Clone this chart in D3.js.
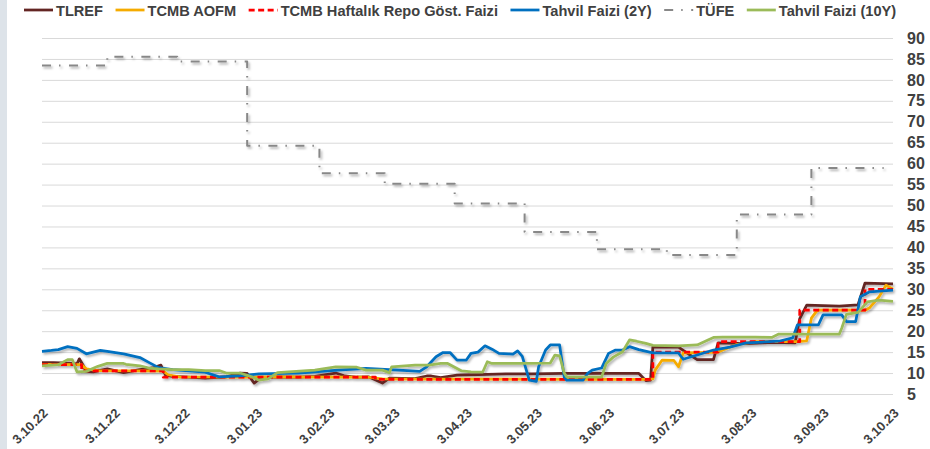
<!DOCTYPE html>
<html>
<head>
<meta charset="utf-8">
<script src="https://cdn.jsdelivr.net/npm/d3@7"></script>
<style>
  body { margin: 0; background: #fff; }
  svg { display: block; font-family: "Liberation Sans", Arial, sans-serif; font-weight: bold; }
</style>
</head>
<body>
<svg></svg>
<script>
// values (dates are dd.mm.yy)
const seriesNames = ['TLREF', 'TCMB AOFM', 'TCMB Haftalık Repo Göst. Faizi', 'Tahvil Faizi (2Y)', 'TÜFE', 'Tahvil Faizi (10Y)'];

const tlref = [
  ['03.10.22', 12.5], ['08.10.22', 12.5], ['14.10.22', 12.4], ['18.10.22', 12.2], ['19.10.22', 13.4],
  ['21.10.22', 11.5], ['22.10.22', 10.4], ['25.10.22', 10.3], ['31.10.22', 11.0], ['07.11.22', 10.1],
  ['14.11.22', 10.8], ['20.11.22', 11.3], ['23.11.22', 11.9], ['25.11.22', 9.5], ['28.11.22', 9.2],
  ['05.12.22', 9.0], ['12.12.22', 8.8], ['21.12.22', 9.1], ['27.12.22', 10.0], ['30.12.22', 9.9],
  ['02.01.23', 7.6], ['05.01.23', 8.9], ['12.01.23', 9.1], ['21.01.23', 9.0], ['28.01.23', 9.2],
  ['06.02.23', 10.0], ['10.02.23', 9.3], ['15.02.23', 9.0], ['20.02.23', 9.1], ['26.02.23', 7.6],
  ['01.03.23', 8.8], ['12.03.23', 8.7], ['17.03.23', 9.3], ['19.03.23', 9.3], ['23.03.23', 8.9],
  ['30.03.23', 9.5], ['08.04.23', 9.6], ['20.04.23', 9.8], ['01.05.23', 9.8], ['15.05.23', 9.9],
  ['01.06.23', 9.9], ['16.06.23', 9.9], ['19.06.23', 8.2], ['21.06.23', 8.3], ['22.06.23', 16.2],
  ['03.07.23', 16.2], ['08.07.23', 14.3], ['11.07.23', 13.2], ['18.07.23', 13.2], ['20.07.23', 17.2],
  ['01.08.23', 17.0], ['12.08.23', 17.3], ['22.08.23', 17.2], ['24.08.23', 23.0], ['27.08.23', 26.2],
  ['10.09.23', 26.0], ['18.09.23', 26.3], ['21.09.23', 31.5], ['03.10.23', 31.3]
];

const aofm = [
  ['03.10.22', 12.1], ['20.10.22', 12.0], ['22.10.22', 11.0], ['27.10.22', 10.6], ['24.11.22', 10.5],
  ['26.11.22', 9.6], ['01.12.22', 9.1], ['20.02.23', 9.0], ['26.02.23', 8.6], ['19.06.23', 8.5],
  ['22.06.23', 8.6], ['23.06.23', 10.7], ['26.06.23', 13.1], ['01.07.23', 13.0], ['03.07.23', 11.5],
  ['05.07.23', 14.8], ['20.07.23', 15.0], ['22.07.23', 15.5], ['28.07.23', 16.8], ['05.08.23', 17.5],
  ['22.08.23', 17.5], ['27.08.23', 17.7], ['29.08.23', 23.1], ['31.08.23', 24.6], ['01.09.23', 25.0],
  ['21.09.23', 25.0], ['23.09.23', 25.6], ['27.09.23', 28.2], ['30.09.23', 31.0], ['03.10.23', 30.0]
];

const repo = [
  ['03.10.22', 12], ['20.10.22', 10.5], ['24.11.22', 9], ['23.02.23', 8.5], ['22.06.23', 15],
  ['20.07.23', 17.5], ['24.08.23', 25], ['21.09.23', 30], ['03.10.23', 30]
];

const bond2y = [
  ['03.10.22', 15.2], ['07.10.22', 15.4], ['10.10.22', 15.6], ['14.10.22', 16.3], ['18.10.22', 15.9],
  ['22.10.22', 14.6], ['28.10.22', 15.4], ['31.10.22', 15.2], ['07.11.22', 14.6], ['14.11.22', 13.7],
  ['18.11.22', 12.5], ['22.11.22', 11.3], ['28.11.22', 10.8], ['05.12.22', 10.5], ['12.12.22', 10.2],
  ['18.12.22', 9.1], ['27.12.22', 9.3], ['04.01.23', 9.8], ['21.01.23', 10.0], ['07.02.23', 10.7],
  ['19.02.23', 11.1], ['05.03.23', 10.7], ['14.03.23', 10.4], ['17.03.23', 11.5], ['21.03.23', 13.9],
  ['24.03.23', 14.9], ['27.03.23', 14.9], ['30.03.23', 13.1], ['03.04.23', 13.1], ['05.04.23', 14.7],
  ['08.04.23', 15.0], ['11.04.23', 16.5], ['14.04.23', 15.7], ['17.04.23', 14.7], ['23.04.23', 14.5],
  ['25.04.23', 15.3], ['27.04.23', 14.0], ['30.04.23', 8.3], ['03.05.23', 8.0], ['04.05.23', 11.5],
  ['07.05.23', 15.5], ['09.05.23', 16.7], ['13.05.23', 16.7], ['15.05.23', 9.0], ['16.05.23', 8.3],
  ['23.05.23', 8.3], ['25.05.23', 9.9], ['27.05.23', 10.7], ['31.05.23', 11.2], ['03.06.23', 14.7],
  ['06.06.23', 15.5], ['09.06.23', 15.5], ['12.06.23', 16.3], ['16.06.23', 15.6], ['22.06.23', 14.8],
  ['03.07.23', 14.8], ['05.07.23', 13.3], ['11.07.23', 14.3], ['18.07.23', 15.5], ['25.07.23', 16.2],
  ['01.08.23', 17.2], ['15.08.23', 17.6], ['21.08.23', 18.4], ['23.08.23', 21.5], ['01.09.23', 21.5],
  ['03.09.23', 23.9], ['11.09.23', 23.9], ['13.09.23', 22.3], ['17.09.23', 22.3], ['19.09.23', 28.2],
  ['23.09.23', 29.4], ['03.10.23', 29.8]
];

const tufe = [
  ['03.10.22', 83.45], ['31.10.22', 85.51], ['30.11.22', 84.39], ['30.12.22', 64.27], ['30.01.23', 57.68],
  ['27.02.23', 55.18], ['29.03.23', 50.51], ['28.04.23', 43.68], ['29.05.23', 39.59], ['28.06.23', 38.21],
  ['28.07.23', 47.83], ['29.08.23', 58.94], ['29.09.23', 58.94]
];

const bond10y = [
  ['03.10.22', 11.7], ['10.10.22', 12.0], ['14.10.22', 13.2], ['16.10.22', 13.2], ['18.10.22', 10.3],
  ['22.10.22', 10.4], ['27.10.22', 11.6], ['31.10.22', 12.3], ['07.11.22', 12.3], ['08.11.22', 12.1],
  ['14.11.22', 11.7], ['18.11.22', 11.2], ['22.11.22', 11.0], ['28.11.22', 10.8], ['05.12.22', 10.8],
  ['12.12.22', 10.6], ['18.12.22', 10.6], ['21.12.22', 10.0], ['27.12.22', 10.0], ['01.01.23', 9.1],
  ['04.01.23', 8.3], ['08.01.23', 8.6], ['12.01.23', 10.1], ['28.01.23', 10.7], ['06.02.23', 11.5],
  ['15.02.23', 11.4], ['19.02.23', 10.7], ['26.02.23', 10.7], ['01.03.23', 10.1], ['02.03.23', 11.5],
  ['12.03.23', 11.9], ['18.03.23', 11.9], ['23.03.23', 12.3], ['26.03.23', 12.3], ['01.04.23', 10.5],
  ['05.04.23', 10.3], ['10.04.23', 10.2], ['12.04.23', 12.7], ['14.04.23', 12.3], ['28.04.23', 12.3],
  ['09.05.23', 12.4], ['11.05.23', 14.3], ['13.05.23', 14.1], ['15.05.23', 10.0], ['16.05.23', 9.1],
  ['31.05.23', 9.0], ['02.06.23', 12.3], ['05.06.23', 13.8], ['09.06.23', 15.1], ['12.06.23', 17.9],
  ['15.06.23', 17.6], ['19.06.23', 17.1], ['22.06.23', 16.6], ['03.07.23', 16.5], ['11.07.23', 16.7],
  ['18.07.23', 18.5], ['22.07.23', 18.6], ['05.08.23', 18.6], ['12.08.23', 18.5], ['15.08.23', 19.3],
  ['10.09.23', 19.3], ['11.09.23', 20.7], ['13.09.23', 24.0], ['18.09.23', 24.5], ['22.09.23', 27.0],
  ['27.09.23', 27.4], ['03.10.23', 27.1]
];

const xTickLabels = ['3.10.22', '3.11.22', '3.12.22', '3.01.23', '3.02.23', '3.03.23', '3.04.23',
  '3.05.23', '3.06.23', '3.07.23', '3.08.23', '3.09.23', '3.10.23'];
const yTicks = d3.range(5, 91, 5);

const width = 930;
const height = 449;
const margin = { left: 42, right: 37, top: 38, bottom: 55 };

const parseDate = d3.timeParse('%d.%m.%y');
const formatTick = d3.timeFormat('%-d.%m.%y');

const svg = d3.select('svg').attr('width', width).attr('height', height);

// soft shadow under the lines
const filter = svg.append('defs').append('filter')
  .attr('id', 'shadow').attr('x', '-5%').attr('y', '-20%').attr('width', '110%').attr('height', '140%');
filter.append('feDropShadow')
  .attr('dx', 1.5).attr('dy', 2).attr('stdDeviation', 1.2)
  .attr('flood-color', '#000').attr('flood-opacity', 0.3);

svg.append('rect').attr('width', width).attr('height', height).attr('fill', '#fff');
svg.append('rect').attr('width', 7).attr('height', height).attr('fill', '#dde3e9');

const xScale = d3.scaleTime()
  .domain([parseDate('03.10.22'), parseDate('03.10.23')])
  .range([margin.left, width - margin.right]);

const yScale = d3.scaleLinear()
  .domain([5, 90])
  .range([height - margin.bottom, margin.top]);

// y axis on the right, ticks stretched into gridlines
const yAxis = d3.axisRight(yScale)
  .tickValues(yTicks)
  .tickSize(-(width - margin.right - margin.left))
  .tickPadding(14);

const yAxisG = svg.append('g')
  .attr('transform', 'translate(' + (width - margin.right) + ', 0)')
  .call(yAxis);
yAxisG.select('.domain').remove();
yAxisG.selectAll('line').attr('stroke', '#d9d9d9').attr('stroke-width', 1);
yAxisG.selectAll('text')
  .attr('fill', '#404040')
  .style('font-size', '16px')
  .style('font-weight', 'bold')
  .style('font-family', '"Liberation Sans", Arial, sans-serif');

const xAxis = d3.axisBottom(xScale)
  .tickValues(xTickLabels.map(parseDate))
  .tickFormat(formatTick)
  .tickSize(0);

const xAxisG = svg.append('g')
  .attr('transform', 'translate(0, ' + (height - margin.bottom) + ')')
  .call(xAxis);
xAxisG.select('.domain').remove();
xAxisG.selectAll('text')
  .attr('fill', '#404040')
  .style('font-size', '13px')
  .style('font-weight', 'bold')
  .style('font-family', '"Liberation Sans", Arial, sans-serif')
  .attr('text-anchor', 'end')
  .attr('dy', 0)
  .attr('y', 0)
  .attr('transform', 'translate(6, 20) rotate(-45)');

const styles = [
  { data: tlref, color: '#632523', width: 2.75, dash: null, curve: d3.curveLinear },
  { data: aofm, color: '#f5ab00', width: 2.75, dash: null, curve: d3.curveLinear },
  { data: repo, color: '#ff0000', width: 2.75, dash: '6,3.5', curve: d3.curveStepAfter },
  { data: bond2y, color: '#0070c0', width: 2.75, dash: null, curve: d3.curveLinear },
  { data: tufe, color: '#888888', width: 2, dash: '9,8,1.5,8.5', curve: d3.curveStepAfter },
  { data: bond10y, color: '#9bbb59', width: 2.75, dash: null, curve: d3.curveLinear }
];

const plot = svg.append('g').attr('filter', 'url(#shadow)');

styles.forEach((s) => {
  const line = d3.line()
    .x((d) => xScale(parseDate(d[0])))
    .y((d) => yScale(d[1]))
    .curve(s.curve);

  plot.append('path')
    .datum(s.data)
    .attr('fill', 'none')
    .attr('stroke', s.color)
    .attr('stroke-width', s.width)
    .attr('stroke-dasharray', s.dash)
    .attr('stroke-linejoin', 'round')
    .attr('d', line);
});

// legend along the top
const legend = svg.append('g').attr('transform', 'translate(24, 10)');
let lx = 0;
seriesNames.forEach((name, i) => {
  const s = styles[i];
  legend.append('line')
    .attr('x1', lx).attr('x2', lx + 29)
    .attr('y1', 0).attr('y2', 0)
    .attr('stroke', s.color)
    .attr('stroke-width', s.width)
    .attr('stroke-dasharray', s.dash);

  const label = legend.append('text')
    .attr('x', lx + 32)
    .attr('y', 5.5)
    .attr('fill', '#404040')
    .style('font-size', '14.6px')
    .text(name);

  lx += 32 + label.node().getComputedTextLength() + 12.5;
});
</script>
</body>
</html>
